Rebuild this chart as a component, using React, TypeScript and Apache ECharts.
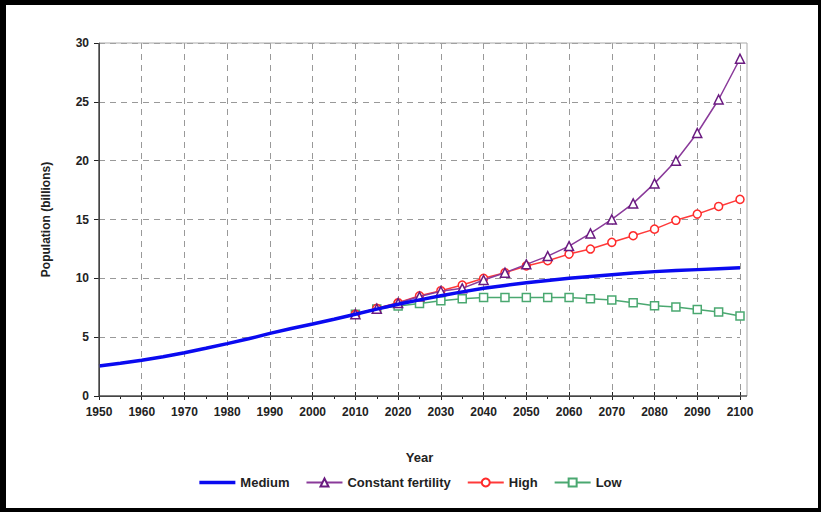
import React, { useEffect, useRef } from "react";
import * as echarts from "echarts";

const mediumYears = [1950, 1955, 1960, 1965, 1970, 1975, 1980, 1985, 1990, 1995, 2000, 2005, 2010, 2015, 2020, 2025, 2030, 2035, 2040, 2045, 2050, 2055, 2060, 2065, 2070, 2075, 2080, 2085, 2090, 2095, 2100];
const mediumValues = [2.55, 2.78, 3.03, 3.33, 3.68, 4.06, 4.45, 4.86, 5.32, 5.74, 6.12, 6.52, 6.95, 7.38, 7.8, 8.17, 8.52, 8.85, 9.15, 9.4, 9.62, 9.82, 10.0, 10.15, 10.3, 10.45, 10.57, 10.66, 10.74, 10.82, 10.9];

const projYears = [2010, 2015, 2020, 2025, 2030, 2035, 2040, 2045, 2050, 2055, 2060, 2065, 2070, 2075, 2080, 2085, 2090, 2095, 2100];
const constantValues = [6.95, 7.42, 7.9, 8.45, 8.9, 9.15, 9.86, 10.48, 11.19, 11.89, 12.74, 13.82, 15.01, 16.37, 18.07, 20.0, 22.35, 25.2, 28.66];
const highValues = [6.95, 7.45, 7.93, 8.52, 8.95, 9.43, 10.0, 10.48, 11.05, 11.5, 12.06, 12.49, 13.06, 13.62, 14.18, 14.93, 15.46, 16.11, 16.71];
const lowValues = [6.95, 7.39, 7.65, 7.87, 8.1, 8.27, 8.38, 8.38, 8.38, 8.38, 8.38, 8.27, 8.16, 7.93, 7.67, 7.56, 7.36, 7.14, 6.8];

const yTicks = [0, 5, 10, 15, 20, 25, 30];
const xTicksMin = 1950;
const xTicksMax = 2100;

const pair = (xs: number[], ys: number[]) => xs.map((x, i) => [x, ys[i]]);

const FONT = "'Liberation Sans', Arial, sans-serif";

export default function App() {
  const ref = useRef<HTMLDivElement>(null);
  useEffect(() => {
    if (!ref.current) return;
    const chart = echarts.init(ref.current, undefined, { renderer: "svg" });
    const gridLeft = 99;
    const gridTop = 43;
    const gridRight = 81;
    const gridBottom = 116;
    const labelStyle = { color: "#222", fontWeight: "bold" as const, fontSize: 12, fontFamily: FONT };
    chart.setOption({
      animation: false,
      backgroundColor: "#fff",
      textStyle: { fontFamily: FONT },
      grid: { left: gridLeft, right: gridRight, top: gridTop, bottom: gridBottom, containLabel: false },
      legend: {
        bottom: 18,
        left: "center",
        itemWidth: 36,
        itemHeight: 10,
        itemGap: 16,
        textStyle: { color: "#222", fontWeight: "bold", fontSize: 13, fontFamily: FONT },
        data: [
          { name: "Medium", icon: "path://M0,0 L40,0 L40,4 L0,4 Z", itemStyle: { color: "#0a0af0" } },
          "Constant fertility",
          "High",
          "Low",
        ],
      },
      xAxis: [
        {
          type: "value",
          min: xTicksMin,
          max: xTicksMax,
          interval: 10,
          name: "Year",
          nameLocation: "middle",
          nameGap: 55,
          nameTextStyle: { color: "#222", fontWeight: "bold", fontSize: 13, fontFamily: FONT },
          axisLine: { show: true, lineStyle: { color: "#222", width: 1 } },
          axisTick: { show: true, length: 4, lineStyle: { color: "#222" } },
          minorTick: { show: true, splitNumber: 2, length: 3, lineStyle: { color: "#222" } },
          axisLabel: { ...labelStyle, margin: 10, formatter: (v: number) => String(v) },
          splitLine: { show: true, lineStyle: { color: "#999", type: [6, 5], width: 1 } },
        },
        {
          type: "value",
          min: xTicksMin,
          max: xTicksMax,
          interval: 10,
          position: "bottom",
          axisLine: { show: false },
          axisTick: { show: true, inside: true, length: 4, lineStyle: { color: "#222" } },
          axisLabel: { show: false },
          splitLine: { show: false },
        },
      ],
      yAxis: {
        type: "value",
        min: yTicks[0],
        max: yTicks[yTicks.length - 1],
        interval: 5,
        name: "Population (billions)",
        nameLocation: "middle",
        nameGap: 47,
        nameTextStyle: { color: "#222", fontWeight: "bold", fontSize: 12, fontFamily: FONT },
        axisLine: { show: true, lineStyle: { color: "#222", width: 1 } },
        axisTick: { show: true, length: 5, lineStyle: { color: "#222" } },
        axisLabel: { ...labelStyle, margin: 10 },
        splitLine: { show: true, lineStyle: { color: "#999", type: [6, 5], width: 1 } },
      },
      graphic: [
        {
          type: "rect",
          silent: true,
          z: 100,
          shape: { x: gridLeft, y: gridTop, width: 747 - gridLeft, height: 396 - gridTop },
          style: { fill: "none", stroke: "#aaa", lineWidth: 1 },
        },
        {
          type: "line",
          silent: true,
          z: 101,
          shape: { x1: gridLeft, y1: 396, x2: 747, y2: 396 },
          style: { stroke: "#222", lineWidth: 1 },
        },
        {
          type: "line",
          silent: true,
          z: 101,
          shape: { x1: gridLeft, y1: gridTop, x2: gridLeft, y2: 396 },
          style: { stroke: "#222", lineWidth: 1 },
        },
        { type: "rect", silent: true, z: 200, shape: { x: 0, y: 0, width: 821, height: 5 }, style: { fill: "#000" } },
        { type: "rect", silent: true, z: 200, shape: { x: 0, y: 0, width: 6, height: 512 }, style: { fill: "#000" } },
        { type: "rect", silent: true, z: 200, shape: { x: 818, y: 0, width: 3, height: 512 }, style: { fill: "#000" } },
        { type: "rect", silent: true, z: 200, shape: { x: 0, y: 508, width: 821, height: 4 }, style: { fill: "#000" } },
      ],
      series: [
        {
          name: "Medium",
          type: "line",
          data: pair(mediumYears, mediumValues),
          showSymbol: false,
          symbol: "none",
          lineStyle: { color: "#0a0af0", width: 3.5 },
          itemStyle: { color: "#0a0af0" },
          z: 5,
        },
        {
          name: "Constant fertility",
          type: "line",
          data: pair(projYears, constantValues),
          symbol: "triangle",
          symbolSize: 9,
          lineStyle: { color: "#8a3a9a", width: 1.5 },
          itemStyle: { color: "#fff", borderColor: "#6a1a80", borderWidth: 1.5 },
          z: 4,
        },
        {
          name: "High",
          type: "line",
          data: pair(projYears, highValues),
          symbol: "circle",
          symbolSize: 8,
          lineStyle: { color: "#ff3a3a", width: 1.5 },
          itemStyle: { color: "#fff", borderColor: "#ff2a2a", borderWidth: 1.5 },
          z: 3,
        },
        {
          name: "Low",
          type: "line",
          data: pair(projYears, lowValues),
          symbol: "rect",
          symbolSize: 8,
          lineStyle: { color: "#4aa870", width: 1.5 },
          itemStyle: { color: "#fff", borderColor: "#4aa870", borderWidth: 1.5 },
          z: 2,
        },
      ],
    });
    return () => chart.dispose();
  }, []);
  return (
    <div
      ref={ref}
      style={{ position: "absolute", left: 0, top: 0, width: 821, height: 512, background: "#fff" }}
    />
  );
}
